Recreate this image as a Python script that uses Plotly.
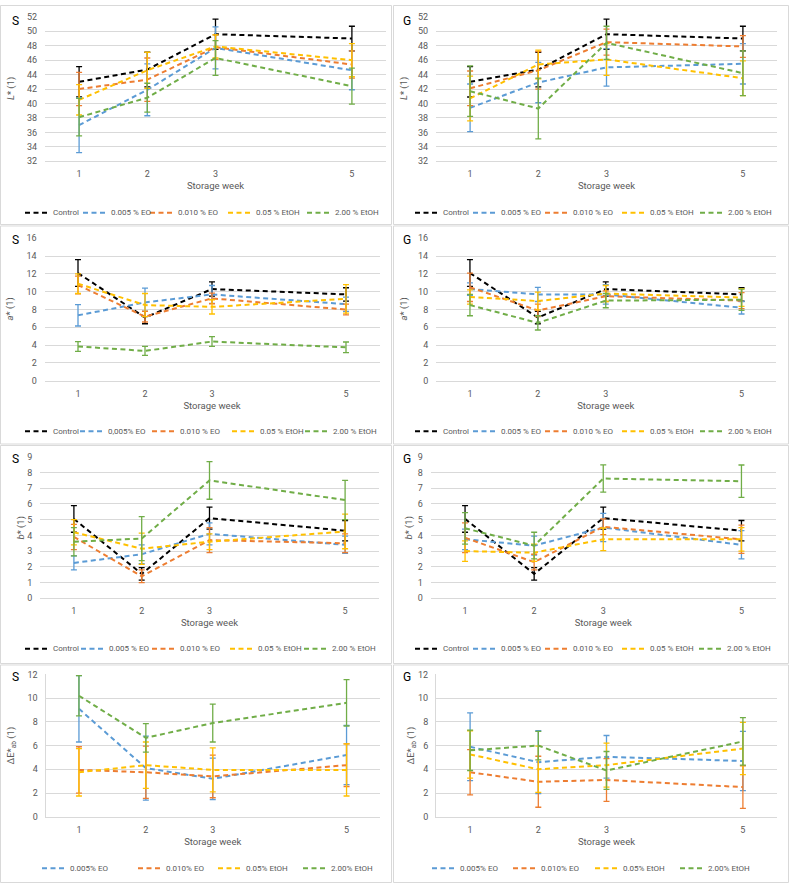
import plotly.graph_objects as go

# ---------------- data ----------------
weeks = [1, 2, 3, 5]
week_ticks = ["1", "2", "3", "5"]

names_std = ["Control", "0.005 % EO", "0.010 % EO", "0.05 % EtOH", "2.00 % EtOH"]
names_a_S = ["Control", "0,005% EO", "0.010 % EO", "0.05 % EtOH", "2.00 % EtOH"]
names_dE = ["0.005% EO", "0.010% EO", "0.05% EtOH", "2.00% EtOH"]

S_L_values = [
    [43.0, 44.7, 49.6, 49.0],
    [37.0, 41.9, 47.7, 44.6],
    [42.0, 43.3, 47.8, 45.4],
    [40.5, 44.6, 47.9, 46.0],
    [38.1, 40.8, 46.3, 42.4],
]
S_L_errors = [
    [2.1, 2.4, 2.1, 1.7],
    [3.8, 3.6, 2.9, 2.7],
    [2.3, 3.0, 1.7, 1.9],
    [2.1, 2.5, 1.6, 2.3],
    [2.6, 2.0, 2.4, 2.5],
]
G_L_values = [
    [43.0, 44.7, 49.6, 49.0],
    [39.4, 42.9, 45.0, 45.5],
    [42.1, 44.6, 48.5, 47.9],
    [40.7, 45.4, 46.1, 43.5],
    [41.7, 39.3, 48.4, 44.2],
]
G_L_errors = [
    [2.1, 2.4, 2.1, 1.7],
    [3.3, 2.8, 2.6, 2.8],
    [2.4, 2.6, 1.8, 1.5],
    [3.1, 2.0, 2.2, 2.4],
    [3.5, 4.2, 2.3, 3.1],
]
S_a_values = [
    [12.1, 7.1, 10.3, 9.7],
    [7.35, 8.8, 9.7, 8.6],
    [10.75, 7.2, 9.25, 8.0],
    [10.9, 8.5, 8.3, 9.2],
    [3.85, 3.35, 4.4, 3.75],
]
S_a_errors = [
    [1.5, 0.7, 0.8, 0.75],
    [1.2, 1.6, 1.0, 0.8],
    [1.0, 0.6, 0.6, 0.6],
    [1.1, 1.3, 0.8, 1.6],
    [0.55, 0.5, 0.55, 0.6],
]
G_a_values = [
    [12.1, 7.1, 10.3, 9.7],
    [10.3, 9.7, 9.7, 8.2],
    [10.5, 7.9, 9.5, 9.0],
    [9.4, 8.95, 9.8, 9.35],
    [8.5, 6.5, 9.0, 9.1],
]
G_a_errors = [
    [1.5, 0.7, 0.8, 0.75],
    [0.7, 0.8, 1.1, 0.7],
    [1.6, 0.7, 0.6, 0.9],
    [0.8, 1.0, 0.9, 1.0],
    [1.2, 0.8, 0.8, 1.2],
]
S_b_values = [
    [5.05, 1.55, 5.1, 4.3],
    [2.25, 2.8, 4.1, 3.4],
    [3.9, 1.4, 3.7, 3.5],
    [4.2, 3.15, 3.6, 4.25],
    [3.6, 3.8, 7.5, 6.25],
]
S_b_errors = [
    [0.85, 0.4, 0.7, 0.65],
    [0.45, 0.6, 0.7, 0.55],
    [0.8, 0.4, 0.8, 0.6],
    [0.8, 1.0, 0.5, 1.1],
    [0.9, 1.4, 1.2, 1.25],
]
G_b_values = [
    [5.05, 1.55, 5.1, 4.3],
    [3.75, 3.35, 4.5, 3.4],
    [3.85, 2.3, 4.55, 3.75],
    [3.0, 2.9, 3.75, 3.75],
    [4.45, 3.35, 7.62, 7.45],
]
G_b_errors = [
    [0.85, 0.4, 0.7, 0.65],
    [0.65, 0.6, 0.9, 0.9],
    [0.95, 0.5, 0.5, 0.9],
    [0.65, 0.55, 0.72, 0.75],
    [1.0, 0.85, 0.87, 1.03],
]
S_dE_values = [
    [9.1, 4.1, 3.2, 5.2],
    [3.95, 3.75, 3.4, 4.35],
    [3.75, 4.35, 3.95, 3.95],
    [10.2, 6.65, 7.9, 9.6],
]
S_dE_errors = [
    [2.8, 2.7, 1.75, 2.5],
    [1.95, 2.2, 1.8, 1.8],
    [2.0, 1.95, 1.85, 2.2],
    [1.7, 1.2, 1.6, 1.95],
]
G_dE_values = [
    [5.9, 4.6, 5.05, 4.7],
    [3.75, 2.95, 3.1, 2.5],
    [5.25, 4.0, 4.35, 5.75],
    [5.6, 6.0, 3.9, 6.35],
]
G_dE_errors = [
    [2.85, 2.65, 1.8, 2.5],
    [1.9, 2.15, 1.8, 1.8],
    [2.0, 1.95, 1.85, 2.2],
    [1.7, 1.2, 1.6, 2.0],
]

colors5 = ["#000000", "#5B9BD5", "#ED7D31", "#FFC000", "#70AD47"]
colors4 = colors5[1:]

# ---------------- layout helpers ----------------
W, H = 789, 888
FONT = "Roboto, Open Sans, sans-serif"
GRAY = "#595959"
GRID = "#d9d9d9"
DASH = "5px,3.5px"


def xd(a, b):
    return [a / W, b / W]


def yd(top, bottom):
    return [1 - bottom / H, 1 - top / H]


panels = [
    dict(label="S", lx=15, ly=16, names=names_std, vals=S_L_values, errs=S_L_errors, cols=colors5,
         yr=[32, 52], dt=2, yt="<i>L</i>* (1)", box=(45, 386, 12, 158), yline=False,
         legy=210, legx=[25, 83, 150, 228, 307], ytx=11),
    dict(label="G", lx=407, ly=16, names=names_std, vals=G_L_values, errs=G_L_errors, cols=colors5,
         yr=[32, 52], dt=2, yt="<i>L</i>* (1)", box=(436, 777, 12, 158), yline=False,
         legy=210, legx=[415, 473, 545, 622, 700], ytx=404),
    dict(label="S", lx=15, ly=238, names=names_a_S, vals=S_a_values, errs=S_a_errors, cols=colors5,
         yr=[0, 16], dt=2, yt="<i>a</i>* (1)", box=(44.5, 379.5, 236, 380), yline=False,
         legy=431, legx=[25, 80, 152, 232, 305], ytx=10),
    dict(label="G", lx=407, ly=238, names=names_std, vals=G_a_values, errs=G_a_errors, cols=colors5,
         yr=[0, 16], dt=2, yt="<i>a</i>* (1)", box=(436, 775.5, 236, 380), yline=False,
         legy=431, legx=[415, 473, 545, 622, 700], ytx=404),
    dict(label="S", lx=15, ly=459, names=names_std, vals=S_b_values, errs=S_b_errors, cols=colors5,
         yr=[0, 9], dt=1, yt="<i>b</i>* (1)", box=(40, 379, 457, 600), yline=False,
         legy=651, legx=[25, 81, 152, 230, 304], ytx=21),
    dict(label="G", lx=407, ly=459, names=names_std, vals=G_b_values, errs=G_b_errors, cols=colors5,
         yr=[0, 9], dt=1, yt="<i>b</i>* (1)", box=(430.5, 776, 457, 600), yline=False,
         legy=651, legx=[415, 473, 545, 622, 699], ytx=409),
    dict(label="S", lx=15, ly=680, names=names_dE, vals=S_dE_values, errs=S_dE_errors, cols=colors4,
         yr=[0, 12], dt=2, yt="ΔE*<sub>ab</sub> (1)", box=(45.5, 380, 677, 821), yline=True,
         legy=873, legx=[42, 138, 218, 303], ytx=12),
    dict(label="G", lx=407, ly=680, names=names_dE, vals=G_dE_values, errs=G_dE_errors, cols=colors4,
         yr=[0, 12], dt=2, yt="ΔE*<sub>ab</sub> (1)", box=(436, 777, 677, 821), yline=True,
         legy=873, legx=[432, 513, 595, 680], ytx=412),
]

fig = go.Figure()
shapes = []
annotations = []
layout = {}

# panel borders
for (x0, x1) in [(0.5, 391.5), (393.5, 788.5)]:
    for (y0, y1) in [(0.5, 222), (223.5, 444), (445.5, 666), (667.5, 887.5)]:
        shapes.append(dict(type="rect", xref="paper", yref="paper",
                           x0=x0 / W, x1=x1 / W, y0=1 - y1 / H, y1=1 - y0 / H,
                           line=dict(color=GRID, width=1), layer="below"))

for i, p in enumerate(panels, start=1):
    xa = "x" if i == 1 else f"x{i}"
    ya = "y" if i == 1 else f"y{i}"
    l, r, t, b = p["box"]
    layout["xaxis" if i == 1 else f"xaxis{i}"] = dict(
        domain=xd(l, r), anchor=ya, range=[0.5, 5.5],
        tickmode="array", tickvals=weeks, ticktext=week_ticks,
        showgrid=False, zeroline=False, showline=True, linecolor=GRID, linewidth=1,
        ticks="outside", ticklen=4, tickcolor="rgba(0,0,0,0)",
        tickfont=dict(family=FONT, size=9, color=GRAY),
        title=dict(text="Storage week", font=dict(family=FONT, size=9.5, color=GRAY), standoff=4),
        fixedrange=True,
    )
    layout["yaxis" if i == 1 else f"yaxis{i}"] = dict(
        domain=yd(t, b), anchor=xa, range=p["yr"], dtick=p["dt"], tick0=0,
        showgrid=True, gridcolor=GRID, gridwidth=1, zeroline=False,
        showline=p["yline"], linecolor=GRID, linewidth=1,
        ticks="outside", ticklen=5, tickcolor="rgba(0,0,0,0)",
        tickfont=dict(family=FONT, size=9, color=GRAY),
        fixedrange=True,
    )
    # y title
    annotations.append(dict(text=p["yt"], xref="paper", yref="paper",
                            x=p["ytx"] / W, y=1 - ((t + b) / 2) / H, textangle=-90,
                            showarrow=False, xanchor="center", yanchor="middle",
                            font=dict(family=FONT, size=9.5, color=GRAY)))
    # panel label
    annotations.append(dict(text=p["label"], xref="paper", yref="paper",
                            x=p["lx"] / W, y=1 - p["ly"] / H, showarrow=False,
                            xanchor="center", yanchor="middle",
                            font=dict(family=FONT, size=12, color="#000000")))
    for name, v, e, c, lx in zip(p["names"], p["vals"], p["errs"], p["cols"], p["legx"]):
        fig.add_trace(go.Scatter(
            x=weeks, y=v, mode="lines", name=name, xaxis=xa, yaxis=ya,
            line=dict(color=c, width=2, dash=DASH),
            error_y=dict(type="data", array=e, visible=True, color=c, thickness=1.3, width=3),
            showlegend=False,
        ))
        # manual legend entry
        ly = 1 - p["legy"] / H
        shapes.append(dict(type="line", xref="paper", yref="paper",
                           x0=lx / W, x1=(lx + 24) / W, y0=ly, y1=ly,
                           line=dict(color=c, width=2, dash=DASH)))
        annotations.append(dict(text=name, xref="paper", yref="paper",
                                x=(lx + 26) / W, y=ly, showarrow=False,
                                xanchor="left", yanchor="middle",
                                font=dict(family=FONT, size=8, color=GRAY)))

fig.update_layout(
    width=W, height=H, margin=dict(l=0, r=0, t=0, b=0),
    paper_bgcolor="white", plot_bgcolor="white",
    showlegend=False, shapes=shapes, annotations=annotations,
    **layout,
)

fig.write_html("out.html")
